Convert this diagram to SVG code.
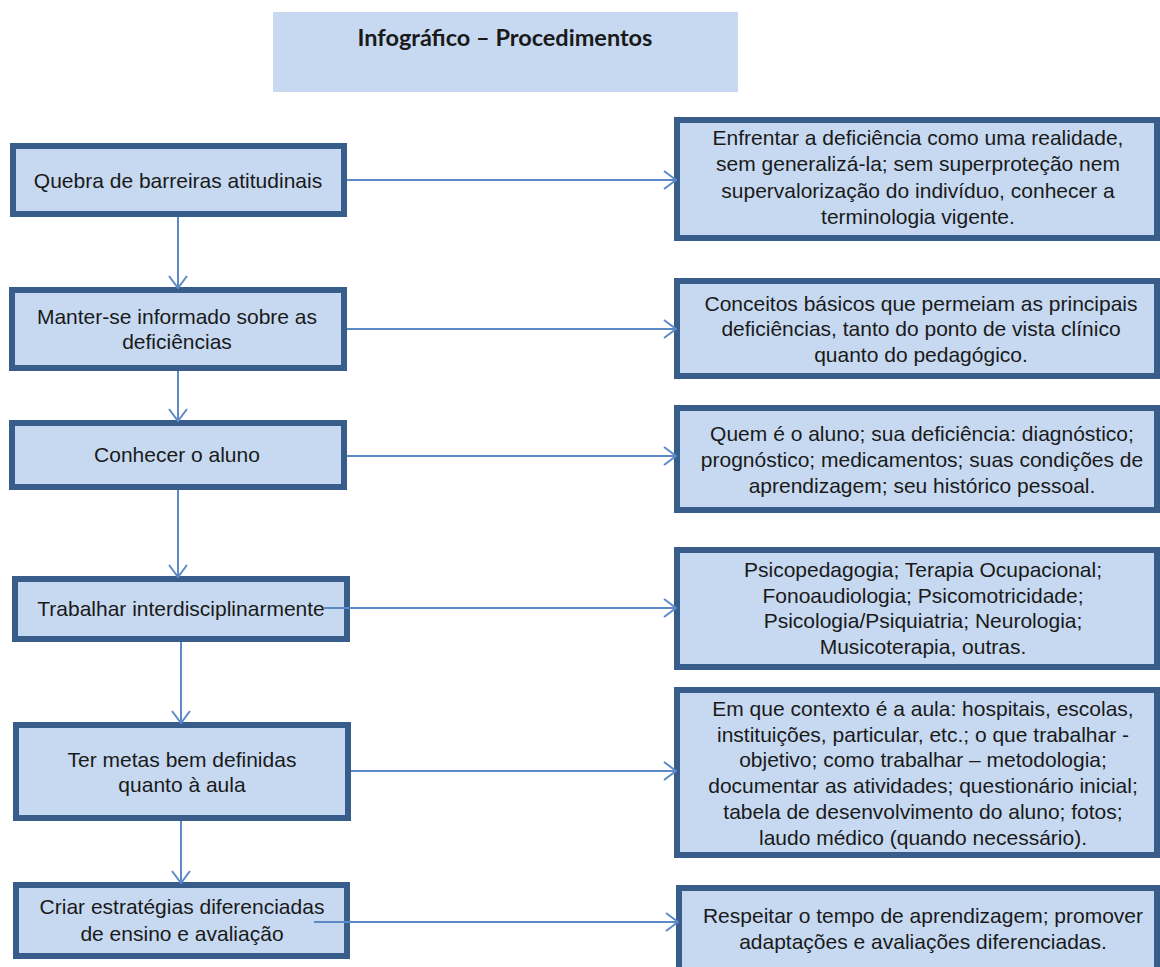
<svg xmlns="http://www.w3.org/2000/svg" width="1160" height="967" viewBox="0 0 1160 967">
<defs>
<style>
.box{fill:#c6d9f1;stroke:#385d8a;stroke-width:6}
.title{fill:#c6d9f1}
.t{font-family:"Liberation Sans",Arial,sans-serif;font-size:21px;fill:#1a1a1a;text-anchor:middle}
.tt{font-family:Lato,"Liberation Sans",sans-serif;font-size:23.5px;font-weight:bold;fill:#1a1a1a;text-anchor:middle}
.c{stroke:#5b8ac6;stroke-width:2;fill:none}
</style>
<marker id="arr" viewBox="0 0 14 20" refX="13" refY="10" markerWidth="14" markerHeight="20" markerUnits="userSpaceOnUse" orient="auto">
<path d="M1,1 L13,10 L1,19" fill="none" stroke="#5b8ac6" stroke-width="2"/>
</marker>
</defs>
<rect width="1160" height="967" fill="#ffffff"/>
<g id="title">
<rect class="title" x="273" y="12" width="465" height="80"/>
<text class="tt" x="505" y="46">Infográfico – Procedimentos</text>
</g>
<g id="n1">
<rect class="box" x="13" y="146" width="331" height="68"/>
<text class="t" x="178" y="188">Quebra de barreiras atitudinais</text>
</g>
<g id="n2">
<rect class="box" x="12" y="290" width="332" height="78"/>
<text class="t" x="177" y="324">Manter-se informado sobre as</text>
<text class="t" x="177" y="349">deficiências</text>
</g>
<g id="n3">
<rect class="box" x="12" y="423" width="332" height="64"/>
<text class="t" x="177" y="462">Conhecer o aluno</text>
</g>
<g id="n4">
<rect class="box" x="15" y="579" width="332" height="60"/>
<text class="t" x="181" y="616">Trabalhar interdisciplinarmente</text>
</g>
<g id="n5">
<rect class="box" x="16" y="725" width="332" height="93"/>
<text class="t" x="182" y="767">Ter metas bem definidas</text>
<text class="t" x="182" y="792">quanto à aula</text>
</g>
<g id="n6">
<rect class="box" x="16" y="885" width="331" height="71"/>
<text class="t" x="182" y="914">Criar estratégias diferenciadas</text>
<text class="t" x="182" y="941">de ensino e avaliação</text>
</g>
<g id="r1">
<rect class="box" x="677" y="120" width="480" height="118"/>
<text class="t" x="918" y="145">Enfrentar a deficiência como uma realidade,</text>
<text class="t" x="918" y="171">sem generalizá-la; sem superproteção nem</text>
<text class="t" x="918" y="198">supervalorização do indivíduo, conhecer a</text>
<text class="t" x="918" y="224">terminologia vigente.</text>
</g>
<g id="r2">
<rect class="box" x="677" y="281" width="480" height="95"/>
<text class="t" x="921" y="311">Conceitos básicos que permeiam as principais</text>
<text class="t" x="921" y="336">deficiências, tanto do ponto de vista clínico</text>
<text class="t" x="921" y="362">quanto do pedagógico.</text>
</g>
<g id="r3">
<rect class="box" x="677" y="408" width="480" height="102"/>
<text class="t" x="922" y="441">Quem é o aluno; sua deficiência: diagnóstico;</text>
<text class="t" x="922" y="467">prognóstico; medicamentos; suas condições de</text>
<text class="t" x="922" y="493">aprendizagem; seu histórico pessoal.</text>
</g>
<g id="r4">
<rect class="box" x="677" y="550" width="480" height="117"/>
<text class="t" x="923" y="577">Psicopedagogia; Terapia Ocupacional;</text>
<text class="t" x="923" y="603">Fonoaudiologia; Psicomotricidade;</text>
<text class="t" x="923" y="628">Psicologia/Psiquiatria; Neurologia;</text>
<text class="t" x="923" y="654">Musicoterapia, outras.</text>
</g>
<g id="r5">
<rect class="box" x="677" y="690" width="480" height="165"/>
<text class="t" x="923" y="716">Em que contexto é a aula: hospitais, escolas,</text>
<text class="t" x="923" y="742">instituições, particular, etc.; o que trabalhar -</text>
<text class="t" x="923" y="767">objetivo; como trabalhar – metodologia;</text>
<text class="t" x="923" y="793">documentar as atividades; questionário inicial;</text>
<text class="t" x="923" y="819">tabela de desenvolvimento do aluno; fotos;</text>
<text class="t" x="923" y="845">laudo médico (quando necessário).</text>
</g>
<g id="r6">
<rect class="box" x="679" y="888" width="478" height="100"/>
<text class="t" x="923" y="923">Respeitar o tempo de aprendizagem; promover</text>
<text class="t" x="923" y="949">adaptações e avaliações diferenciadas.</text>
</g>
<g id="connectors">
<line class="c" x1="347" y1="180" x2="676" y2="180" marker-end="url(#arr)"/>
<line class="c" x1="347" y1="329" x2="676" y2="329" marker-end="url(#arr)"/>
<line class="c" x1="347" y1="456" x2="676" y2="456" marker-end="url(#arr)"/>
<line class="c" x1="323" y1="608" x2="676" y2="608" marker-end="url(#arr)"/>
<line class="c" x1="351" y1="771" x2="676" y2="771" marker-end="url(#arr)"/>
<line class="c" x1="314" y1="922" x2="678" y2="922" marker-end="url(#arr)"/>
<line class="c" x1="178" y1="217" x2="178" y2="288" marker-end="url(#arr)"/>
<line class="c" x1="178" y1="371" x2="178" y2="421" marker-end="url(#arr)"/>
<line class="c" x1="178" y1="490" x2="178" y2="577" marker-end="url(#arr)"/>
<line class="c" x1="181" y1="642" x2="181" y2="723" marker-end="url(#arr)"/>
<line class="c" x1="181" y1="821" x2="181" y2="883" marker-end="url(#arr)"/>
</g>
</svg>
